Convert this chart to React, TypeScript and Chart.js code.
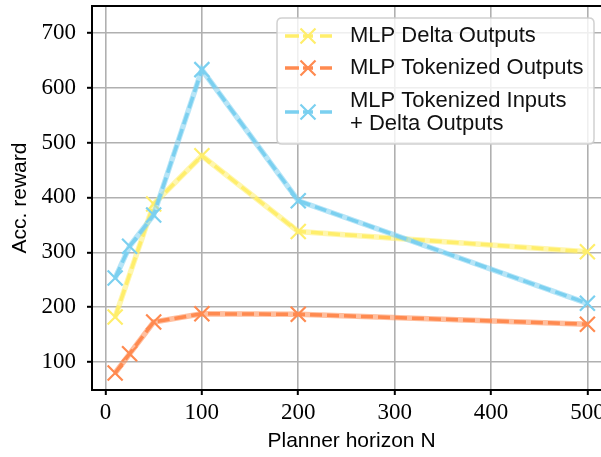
import React, { useEffect, useRef } from "react";
import { Chart, registerables } from "chart.js";

Chart.register(...registerables);

const xDelta = [10, 50, 100, 200, 500];
const yDelta = [182, 388, 476, 338, 301];
const xTokOut = [10, 25, 50, 100, 200, 500];
const yTokOut = [80, 115, 173, 188, 187, 169];
const xTokIn = [10, 25, 50, 100, 200, 500];
const yTokIn = [253, 311, 368, 633, 394, 207];

const xTicks = [0, 100, 200, 300, 400, 500];
const yTicks = [100, 200, 300, 400, 500, 600, 700];

const seriesNames = ["MLP Delta Outputs", "MLP Tokenized Outputs", "MLP Tokenized Inputs\n+ Delta Outputs"];
const colors = ["#FFEE6B", "#FF8A50", "#7BD0F0"];
const lightColors = ["rgba(255,238,107,0.55)", "rgba(255,138,80,0.55)", "rgba(123,208,240,0.55)"];

const SANS = '"Liberation Sans", Arial, sans-serif';
const SERIF = '"Liberation Serif", "Times New Roman", serif';

function pts(xs: number[], ys: number[]) {
  return xs.map((x, i) => ({ x, y: ys[i] }));
}

const legendPlugin = {
  id: "customLegend",
  afterDraw(chart: any) {
    const ctx = chart.ctx as CanvasRenderingContext2D;
    const a = chart.chartArea;
    ctx.save();
    ctx.strokeStyle = "#000";
    ctx.lineWidth = 2;
    ctx.beginPath();
    ctx.moveTo(a.left, a.top);
    ctx.lineTo(a.right, a.top);
    ctx.stroke();
    ctx.beginPath();
    ctx.moveTo(a.right, a.top);
    ctx.lineTo(a.right, a.bottom);
    ctx.stroke();

    const lx = 277, ly = 18, lw = 317, lh = 126, r = 5;
    ctx.beginPath();
    ctx.moveTo(lx + r, ly);
    ctx.lineTo(lx + lw - r, ly);
    ctx.quadraticCurveTo(lx + lw, ly, lx + lw, ly + r);
    ctx.lineTo(lx + lw, ly + lh - r);
    ctx.quadraticCurveTo(lx + lw, ly + lh, lx + lw - r, ly + lh);
    ctx.lineTo(lx + r, ly + lh);
    ctx.quadraticCurveTo(lx, ly + lh, lx, ly + lh - r);
    ctx.lineTo(lx, ly + r);
    ctx.quadraticCurveTo(lx, ly, lx + r, ly);
    ctx.closePath();
    ctx.fillStyle = "rgba(255,255,255,0.8)";
    ctx.fill();
    ctx.strokeStyle = "rgba(204,204,204,0.9)";
    ctx.lineWidth = 1.5;
    ctx.stroke();

    const rows = [36, 68, 112];
    seriesNames.forEach((name, i) => {
      const cy = rows[i];
      ctx.strokeStyle = colors[i];
      ctx.lineWidth = 3.5;
      ctx.beginPath();
      ctx.moveTo(285, cy);
      ctx.lineTo(299, cy);
      ctx.moveTo(303, cy);
      ctx.lineTo(313, cy);
      ctx.moveTo(320, cy);
      ctx.lineTo(332, cy);
      ctx.stroke();
      ctx.lineWidth = 2.2;
      const cx = 308, h = 7.5;
      ctx.beginPath();
      ctx.moveTo(cx - h, cy - h);
      ctx.lineTo(cx + h, cy + h);
      ctx.moveTo(cx - h, cy + h);
      ctx.lineTo(cx + h, cy - h);
      ctx.stroke();
      ctx.fillStyle = "#111";
      ctx.font = `22px ${SANS}`;
      ctx.textBaseline = "middle";
      ctx.textAlign = "left";
      const lines = name.split("\n");
      const lineGap = 23;
      const start = cy - ((lines.length - 1) * lineGap) / 2;
      lines.forEach((t, j) => ctx.fillText(t, 350, start + j * lineGap));
    });
    ctx.restore();
  },
};

function noPad(s: any) {
  s.paddingTop = 0;
  s.paddingBottom = 0;
  s.paddingLeft = 0;
  s.paddingRight = 0;
}

export default function App() {
  const ref = useRef<HTMLCanvasElement>(null);
  useEffect(() => {
    if (!ref.current) return;
    const sets = [pts(xDelta, yDelta), pts(xTokOut, yTokOut), pts(xTokIn, yTokIn)];
    const datasets: any[] = [];
    sets.forEach((d, i) => {
      datasets.push({
        data: d,
        borderColor: lightColors[i],
        borderWidth: 5.5,
        pointRadius: 0,
        fill: false,
        order: 10 - 2 * i,
      });
      datasets.push({
        data: d,
        borderColor: colors[i],
        borderWidth: 3.5,
        borderDash: [12, 5],
        pointStyle: "crossRot",
        pointRadius: 10.6,
        pointBorderWidth: 2.2,
        pointBorderColor: colors[i],
        pointBackgroundColor: colors[i],
        fill: false,
        order: 9 - 2 * i,
      });
    });
    const chart = new Chart(ref.current, {
      type: "line",
      data: { datasets },
      plugins: [legendPlugin],
      options: {
        responsive: false,
        animation: false,
        events: [],
        layout: { autoPadding: false, padding: { top: 6, right: 1, left: 0, bottom: 0 } },
        plugins: { legend: { display: false }, tooltip: { enabled: false } },
        scales: {
          x: {
            type: "linear",
            min: -14,
            max: 524.5,
            afterBuildTicks: (s: any) => {
              s.ticks = xTicks.map((v) => ({ value: v }));
            },
            afterFit: (s: any) => {
              s.height = 67;
              noPad(s);
            },
            grid: { color: "#b0b0b0", lineWidth: 1.6, tickColor: "#000", tickLength: 5, tickWidth: 2 },
            border: { color: "#000", width: 2 },
            ticks: { color: "#000", font: { family: SERIF, size: 23 }, padding: 4, maxRotation: 0 },
            title: {
              display: true,
              text: "Planner horizon N",
              color: "#000",
              font: { family: SANS, size: 21 },
              padding: { top: 0, bottom: 3 },
            },
          },
          y: {
            type: "linear",
            min: 49,
            max: 749,
            afterBuildTicks: (s: any) => {
              s.ticks = yTicks.map((v) => ({ value: v }));
            },
            afterFit: (s: any) => {
              s.width = 92;
              noPad(s);
            },
            grid: { color: "#b0b0b0", lineWidth: 1.6, tickColor: "#000", tickLength: 5, tickWidth: 2 },
            border: { color: "#000", width: 2 },
            ticks: { color: "#000", font: { family: SERIF, size: 23 }, padding: 11 },
            title: {
              display: true,
              text: "Acc. reward",
              color: "#000",
              font: { family: SANS, size: 21 },
              padding: { top: 8, bottom: 0 },
            },
          },
        },
      } as any,
    });
    return () => chart.destroy();
  }, []);
  return (
    <div style={{ position: "absolute", left: 0, top: 0, width: 601, height: 457, overflow: "hidden", background: "#fff" }}>
      <canvas ref={ref} width={612} height={457} style={{ display: "block" }} />
    </div>
  );
}
